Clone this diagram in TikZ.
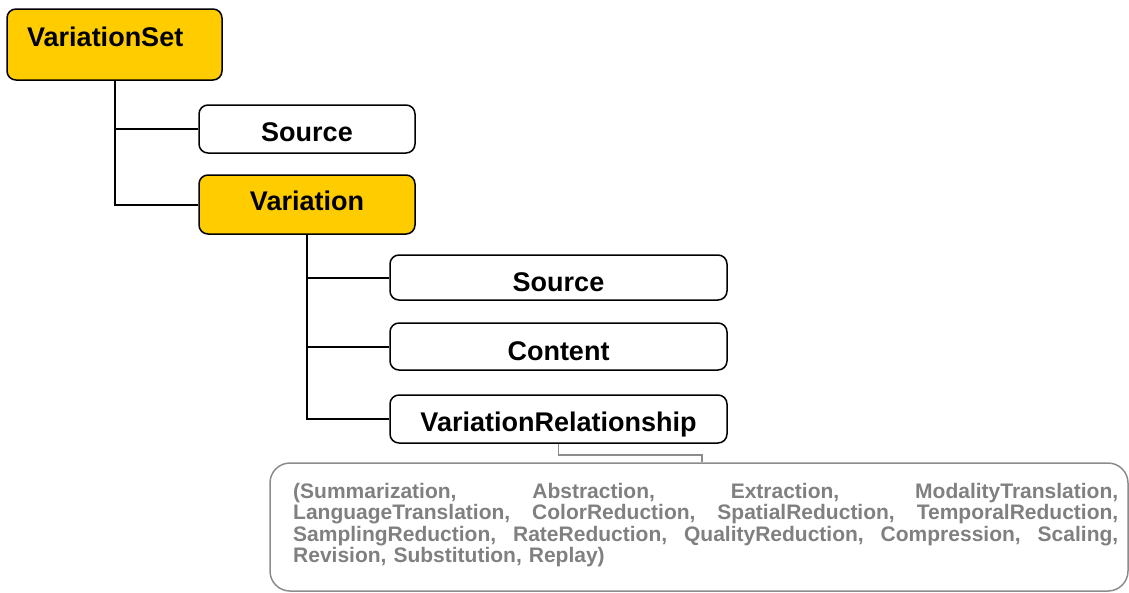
\documentclass[tikz,border=0pt]{standalone}
\usepackage{fontspec}
\setmainfont{Liberation Sans}
\definecolor{vyellow}{HTML}{FFCC00}
\definecolor{vgray}{HTML}{808080}
\definecolor{vline}{HTML}{8C8C8C}
\begin{document}
\begin{tikzpicture}[x=1pt,y=-1pt,
  box/.style={draw=black, line width=1.5pt, rounded corners=9pt, fill=white, inner sep=0pt},
  ybox/.style={box, fill=vyellow},
  lab/.style={font=\bfseries\fontsize{27}{30}\selectfont, inner sep=0pt, text=black},
  conn/.style={line width=2pt, draw=black},
  gconn/.style={line width=1.5pt, draw=vline}]
\useasboundingbox (0,0) rectangle (1129,592);

% boxes
\node[ybox, minimum width=215pt, minimum height=71pt] (vs) at (114.5,44.5) {};
\node[box, minimum width=216pt, minimum height=48pt] (src1) at (307,129) {};
\node[ybox, minimum width=216pt, minimum height=59pt] (var) at (307,204.5) {};
\node[box, minimum width=337pt, minimum height=45pt] (src2) at (558.5,277.5) {};
\node[box, minimum width=337pt, minimum height=47pt] (cont) at (558.5,346.5) {};
\node[box, minimum width=337pt, minimum height=48pt] (vr) at (558.5,419) {};
\node[draw=vline, line width=1.5pt, rounded corners=20pt, minimum width=858pt, minimum height=128pt, inner sep=0pt] (rels) at (699,527) {};

% labels
\node[lab, anchor=base west] (vsl) at (27,46) {VariationSet};
\node[lab, anchor=base] (src1l) at (307,141) {Source};
\node[lab, anchor=base] (varl) at (307,210) {Variation};
\node[lab, anchor=base] (src2l) at (558.5,291) {Source};
\node[lab, anchor=base] (contl) at (558.5,360) {Content};
\node[lab, anchor=base] (vrl) at (558.5,431) {VariationRelationship};

\node[anchor=base west, inner sep=0pt, text=vgray, align=left, text width=826pt,
      font=\bfseries\fontsize{21}{21.5}\selectfont] (relt) at (293,498)
 {\makebox[825pt][s]{(Summarization,\hfill Abstraction,\hfill Extraction,\hfill ModalityTranslation,}\\
  \makebox[825pt][s]{LanguageTranslation,\hfill ColorReduction,\hfill SpatialReduction,\hfill TemporalReduction,}\\
  \makebox[825pt][s]{SamplingReduction,\hfill RateReduction,\hfill QualityReduction,\hfill Compression,\hfill Scaling,}\\
  Revision, Substitution, Replay)};

% connectors
\draw[conn] (vs.south) |- (src1.west);
\draw[conn] (vs.south) |- (var.west);
\draw[conn] (var.south) |- (src2.west);
\draw[conn] (var.south) |- (cont.west);
\draw[conn] (var.south) |- (vr.west);
\coordinate (k) at (702,455);
\draw[gconn] (vr.south) |- (k) -- (k |- rels.north);
\end{tikzpicture}
\end{document}
